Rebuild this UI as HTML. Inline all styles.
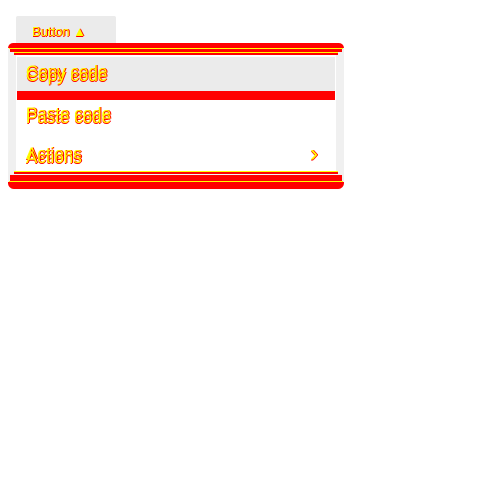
<!DOCTYPE html>
<html><head><style>
body{margin:0;width:500px;height:500px;background:#fff;position:relative;overflow:hidden;font-family:"Liberation Sans",sans-serif}
div{position:absolute}
.t{color:#ff0;text-shadow:1px 0 #f00,0 1px #f00;white-space:nowrap}
</style></head><body>
<div style="left:16px;top:16px;width:100px;height:30px;background:#ebebeb;border-radius:2px"></div>
<div class="t" style="left:32px;top:24px;font-size:13px">Button ▲</div>
<div style="left:8px;top:43px;width:336px;height:146px;background:#f0f0f0;border-radius:7px;border:0"></div>
<div style="left:8px;top:43px;width:336px;height:5px;background:#f00;border-radius:6px 6px 0 0"></div>
<div style="left:9px;top:48px;width:334px;height:1px;background:#ff0"></div>
<div style="left:10px;top:49px;width:332px;height:3px;background:#f00"></div>
<div style="left:14px;top:52px;width:324px;height:1px;background:#ff0"></div>
<div style="left:14px;top:53px;width:324px;height:2px;background:#f00"></div>
<div style="left:16px;top:55px;width:320px;height:116px;background:#fff"></div>
<div style="left:17px;top:57px;width:318px;height:34px;background:#ebebeb"></div>
<div class="t" style="left:26px;top:62px;font-size:17px">Copy code</div>
<div class="t" style="left:26px;top:66px;font-size:17px">Copy code</div>
<div style="left:17px;top:91px;width:318px;height:9px;background:#f00"></div>
<div class="t" style="left:26px;top:104px;font-size:17px">Paste code</div>
<div class="t" style="left:26px;top:108px;font-size:17px">Paste code</div>
<div class="t" style="left:26px;top:144px;font-size:17px">Actions</div>
<div class="t" style="left:26px;top:148px;font-size:17px">Actions</div>
<div class="t" style="left:310px;top:140px;font-size:24px">›</div>
<div style="left:14px;top:171px;width:324px;height:1px;background:#ff0"></div>
<div style="left:14px;top:172px;width:324px;height:2px;background:#f00"></div>
<div style="left:10px;top:175px;width:332px;height:6px;background:#f00"></div>
<div style="left:9px;top:181px;width:334px;height:1px;background:#ff0"></div>
<div style="left:8px;top:182px;width:336px;height:7px;background:#f00;border-radius:0 0 6px 6px"></div>
</body></html>
